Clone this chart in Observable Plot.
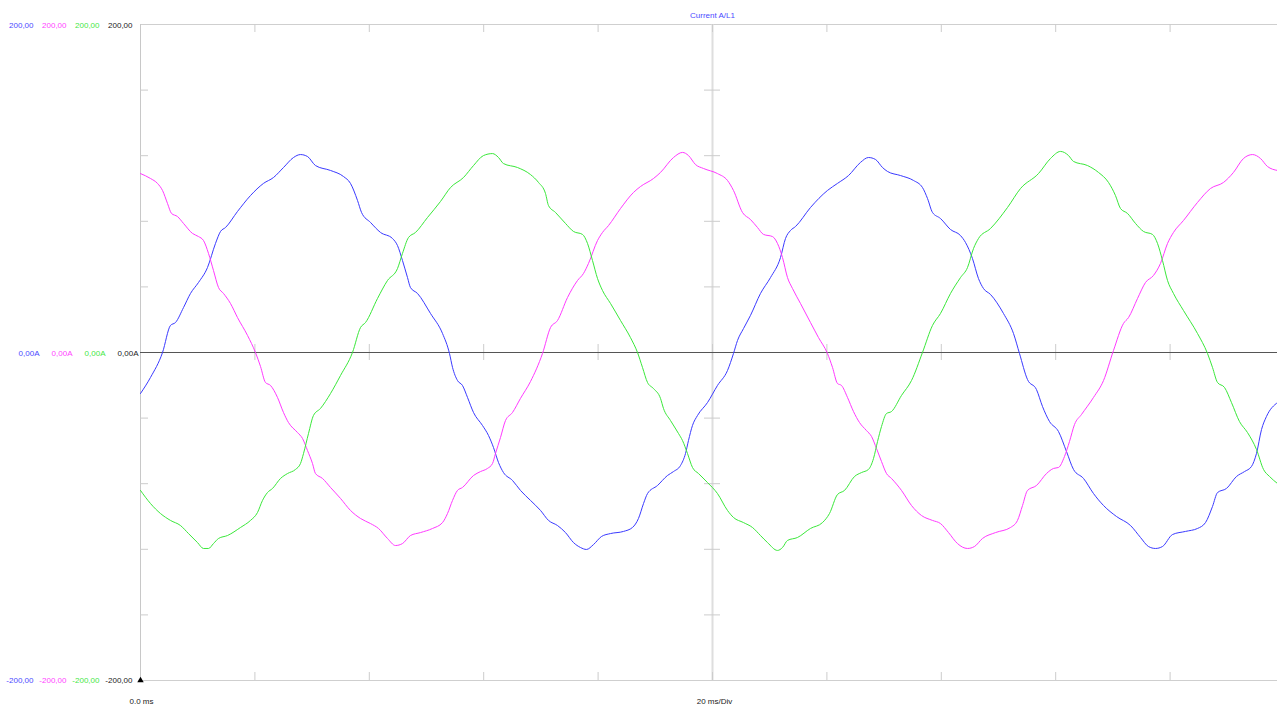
<!DOCTYPE html>
<html>
<head>
<meta charset="utf-8">
<script src="https://cdn.jsdelivr.net/npm/d3@7"></script>
<script src="https://cdn.jsdelivr.net/npm/@observablehq/plot@0.6"></script>
<style>
  html, body { margin: 0; padding: 0; background: #fff; overflow: hidden; }
  #chart svg { display: block; }
</style>
</head>
<body>
<div id="chart"></div>
<script>
// ---- Data (time in ms, current in A) ----
const blueTime = [0,1.75,3.85,5.24,6.12,7.52,8.74,10.14,11.71,13.11,13.99,14.86,16.96,19.23,21.5,23.25,25,26.75,27.97,29.2,30.59,33.22,35.49,36.71,37.94,38.64,40.21,41.96,44.06,44.93,45.8,46.68,47.2,48.43,50.7,52.8,54.02,54.55,55.42,56.29,57.17,58.22,59.79,60.84,61.71,62.59,63.46,65.03,66.43,68.18,69.93,71.33,72.9,74.3,75.7,76.92,77.97,79.2,80.59,82.17,84.44,86.01,87.06,87.94,88.64,90.38,92.13,93.18,94.41,95.28,95.8,96.5,97.38,99.13,100.87,102.62,103.67,104.37,105.42,106.64,108.39,110.14,111.89,112.76,113.64,114.51,117.13,120.1,121.85,123.78,125.87,127.27,128.5,129.72,130.59,132.87,135.14,136.71,137.59,138.46,139.86,141.61,143.36,144.23,145.45,146.5,147.38,148.6,150.87,152.62,153.67,155.07,156.64,157.69,158.92,160.49,161.89,163.11,164.86,166.61,168.36,170.63,173.08,174.83,176.22,177.45,178.67,180.42,182.69,184.79,186.19,187.41,188.29,189.86,191.61,193.01,194.23,195.1,195.98,196.85,198.78];
const blueCurrent = [-25,-15.2,0,16.5,18.3,27.4,36,42.7,51.8,66.5,73.8,76.2,86,95.7,103.1,106.7,112.8,118.9,120.7,119.5,114,111,107.3,103.1,92.7,85.4,79.3,73.2,69.5,65.2,56.1,45.7,39.6,36,23.8,11.6,-0.6,-9.1,-17.1,-20.1,-27.4,-36.6,-44.5,-50.6,-57.9,-67.1,-73.2,-78,-84.1,-90.2,-96.3,-102.4,-105.5,-109.8,-115.9,-118.9,-120.1,-117.1,-112.2,-110.4,-109.1,-106.7,-101.2,-92.1,-86,-81.1,-75,-72.6,-68.9,-61.6,-53.7,-44.5,-38.4,-30.5,-20.1,-11,-0.6,7.3,14.6,22.6,36,45.7,57.9,69.5,74.4,76.8,88.4,98.8,103.1,107.9,115.9,118.9,117.7,112.8,110.4,107.9,104.9,100.6,93.9,85.4,81.7,75,71.3,67.1,57.3,45.1,39,35.4,23.8,11.6,-0.6,-16.5,-22.6,-32.9,-42.1,-48.2,-60.4,-71.3,-76.8,-86,-93.3,-100,-105.5,-112.8,-118.3,-119.5,-118.3,-111,-109.1,-107.3,-103.7,-93.9,-85.4,-82.9,-75.6,-72.6,-69.5,-61.6,-47,-39,-30.5];

const magentaTime = [0,1.75,2.97,3.85,4.72,5.42,6.47,7.52,9.09,10.14,11.01,11.89,12.76,13.64,14.51,15.73,16.96,18.71,20.1,20.98,21.85,22.73,23.95,25,25.87,27.45,28.32,29.2,30.07,30.59,31.82,33.22,34.97,36.71,38.46,40.21,41.61,43.18,44.58,45.8,47.2,48.95,51.05,52.8,53.67,54.55,55.42,56.29,58.22,59.44,60.66,61.54,62.06,62.94,63.81,65.03,66.43,68.18,70.28,71.68,72.9,74.65,76.4,77.45,78.32,79.9,80.77,81.82,83.92,86.19,87.41,89.69,90.91,93.18,94.76,95.8,97.03,98.43,100.87,102.62,103.67,105.24,106.64,107.87,108.92,110.49,111.36,112.24,113.11,113.99,115.38,117.13,118.53,120.1,120.98,121.85,122.55,123.6,124.65,125.7,126.92,127.8,128.67,129.55,130.42,131.29,133.04,134.79,136.54,138.46,139.86,141.26,142.83,144.58,145.8,147.2,149.48,152.1,153.32,154.2,155.07,156.64,158.39,159.62,160.49,161.54,162.41,163.29,164.51,166.61,168.36,170.1,171.85,172.73,174.3,175.7,177.1,178.32,179.55,180.59,182.34,184.79,187.06,189.34,191.08,192.83,194.41,195.8,197.03,198.78];
const magentaCurrent = [109.1,106.1,103.1,98.8,90.9,84.8,82.9,78.7,72.6,70.7,68.3,60.4,50,39.6,36,29.9,21.3,10.4,0,-8.5,-18.3,-20.1,-27.4,-36.6,-42.7,-48.8,-52.4,-59.8,-67.7,-73.8,-76.8,-82.3,-89,-96.3,-101.2,-104.3,-107.3,-113.4,-117.7,-116.5,-111.6,-109.8,-107.3,-103.7,-98.2,-90.2,-84.1,-82.3,-75,-72.6,-70.7,-67.7,-61.6,-51.8,-41.5,-36.6,-28,-17.7,-0.6,15.2,19.5,33.5,43.9,48.2,54.3,68.3,73.2,77.4,87.8,97.6,101.2,106.1,109.8,118.9,122,120.1,114.6,112.2,109.1,104.9,98.8,85.4,81.1,76.2,72,70.7,66.5,57.9,45.7,39,29.9,18.3,9.1,-0.6,-9.1,-18.9,-20.1,-27.4,-36,-42.7,-47.6,-51.2,-58.5,-66.5,-73.8,-76.8,-84.1,-93.3,-99.4,-102.4,-104.3,-109.8,-116.5,-119.5,-118.3,-113.4,-109.8,-106.7,-102.4,-93.3,-84.1,-81.1,-73.8,-70.7,-70.1,-63.4,-54.3,-43.9,-37.8,-27.4,-17.1,1.2,17.7,21.3,32.9,42.7,47,54.3,66.5,73.2,80.5,91.5,100,103.7,109.8,118.3,120.7,118.3,113.4,111];

const greenTime = [0,1.75,3.5,5.24,6.99,8.39,9.97,11.01,11.89,12.76,13.64,15.21,17.48,19.23,20.45,21.33,22.2,23.08,24.48,25.7,27.1,27.97,28.5,29.37,30.24,31.47,33.22,34.97,37.06,38.46,39.34,41.43,43.18,44.93,45.8,46.85,48.08,50.17,52.45,54.2,56.47,58.22,59.97,61.54,62.59,63.46,65.91,68.18,69.58,70.8,71.33,72.55,74.3,75.7,77.27,78.15,79.02,79.9,80.77,82.17,83.92,85.66,86.89,87.76,88.64,89.69,90.91,91.43,92.66,94.06,94.76,95.63,96.5,97.55,99.13,100.87,102.62,103.67,105.42,106.99,108.39,109.62,111.36,112.24,113.11,114.86,117.13,119.23,120.45,121.85,123.08,124.83,126.05,127.27,128.15,128.85,129.55,130.42,131.29,133.04,134.79,136.71,138.46,139.86,141.61,143.36,144.58,145.63,146.5,148.6,151.57,153.85,156.99,159.09,160.84,162.24,163.11,165.56,167.48,169.23,170.45,171.33,172.55,173.95,175.35,176.92,177.8,178.67,179.55,180.59,182.34,184.79,186.54,187.41,188.29,189.51,190.73,192.13,193.53,195.1,196.33,197.38,198.78];
const greenCurrent = [-84.1,-92.1,-98.2,-102.4,-105.5,-110.4,-115.9,-119.5,-119.5,-116.5,-113.4,-111.6,-106.7,-102.4,-97.6,-90.2,-85.4,-82.9,-76.8,-73.8,-71.3,-67.7,-61.6,-49.4,-38.4,-34.1,-25,-14,0,15.2,18.3,32.9,43.9,51.2,60.4,70.1,73.2,82.3,92.1,100.6,106.7,114,120.1,121.3,118.9,115.2,112.8,108.5,103.7,97,89.6,85.4,78.7,73.8,72,66.5,56.1,45.1,37.8,29.9,19.5,9.1,0,-9.1,-18.3,-22,-28,-34.1,-41.5,-49.4,-53.7,-61.6,-70.1,-73.8,-79.3,-86,-96.3,-100.6,-103.7,-106.7,-111.6,-115.9,-120.7,-118.9,-114.6,-112.8,-107.3,-103.7,-98.2,-86.6,-84.1,-75.6,-73.2,-71.3,-64.6,-54.3,-45.1,-37.2,-36,-26.2,-17.1,0,16.5,23.8,36,45.7,51.8,63.4,69.5,75.6,88.4,100,109.1,118.3,122.6,120.1,116.5,114,109.8,103.7,95.7,87.8,84.8,78.7,73.8,72,66.5,56.1,43.9,36,25.6,11.6,-0.6,-9.1,-18.3,-21.3,-30.5,-42.1,-48.8,-59.1,-71.3,-75.6,-79.9];

// ---- Labels ----
const title = "Current A/L1";
const seriesColors = ["#3a3aff", "#ff3aff", "#3ae83a"];
const labelColors = ["#4a4aff", "#ff44ff", "#44e844", "#222222"];
const topLabels = ["200,00", "200,00", "200,00", "200,00"];
const zeroLabels = ["0,00A", "0,00A", "0,00A", "0,00A"];
const bottomLabels = ["-200,00", "-200,00", "-200,00", "-200,00"];
const xStartLabel = "0.0 ms";
const xDivLabel = "20 ms/Div";
const xTicks = [20, 40, 60, 80, 100, 120, 140, 160, 180];
const yTicks = [-160, -120, -80, -40, 40, 80, 120, 160];

// ---- Build tables ----
const toRows = (t, v, s) => t.map((d, i) => ({ t: d, v: v[i], s }));
const blue = toRows(blueTime, blueCurrent, "blue");
const magenta = toRows(magentaTime, magentaCurrent, "magenta");
const green = toRows(greenTime, greenCurrent, "green");

const W = 1277, H = 704, ML = 140, MT = 24, MB = 24;
const xMax = (W - ML) / 114.4 * 20; // 20 ms per division of 114.4 px
const pxY = 656 / 400;              // px per A
const pxX = 114.4 / 20;             // px per ms
const tickLen = 8;
const font = "'Liberation Sans', Arial, sans-serif";

const leftLabelMarks = [];
const topRight = [33, 66, 99, 132];
const zeroRight = [39, 72, 105, 138];
[0, 1, 2, 3].forEach(i => {
  leftLabelMarks.push(Plot.text([topLabels[i]], {x: 0, y: 200, text: d => d, textAnchor: "end", dx: topRight[i] - ML, dy: 1, fill: labelColors[i], fontSize: 8}));
  leftLabelMarks.push(Plot.text([zeroLabels[i]], {x: 0, y: 0, text: d => d, textAnchor: "end", dx: zeroRight[i] - ML, dy: 1, fill: labelColors[i], fontSize: 8}));
  leftLabelMarks.push(Plot.text([bottomLabels[i]], {x: 0, y: -200, text: d => d, textAnchor: "end", dx: topRight[i] - ML, dy: 0, fill: labelColors[i], fontSize: 8}));
});

const chart = Plot.plot({
  width: W,
  height: H,
  marginLeft: ML,
  marginRight: 0,
  marginTop: MT,
  marginBottom: MB,
  x: {domain: [0, xMax], axis: null},
  y: {domain: [-200, 200], axis: null},
  style: {fontFamily: font, fontSize: "8px", background: "#fff", overflow: "visible"},
  marks: [
    // frame / grid
    Plot.ruleY([200, -200], {stroke: "#cfcfcf", strokeWidth: 1}),
    Plot.ruleX([0], {stroke: "#c8c8c8", strokeWidth: 1}),
    Plot.ruleX([100], {stroke: "#dedede", strokeWidth: 2}),
    // small ticks
    Plot.ruleX(xTicks, {y1: -tickLen / pxY, y2: tickLen / pxY, stroke: "#cccccc"}),
    Plot.ruleX(xTicks, {y1: 200, y2: 200 - tickLen / pxY, stroke: "#cccccc"}),
    Plot.ruleX(xTicks, {y1: -200, y2: -200 + tickLen / pxY, stroke: "#cccccc"}),
    Plot.ruleY(yTicks, {x1: 0, x2: tickLen / pxX, stroke: "#cccccc"}),
    Plot.ruleY(yTicks, {x1: 100 - tickLen / pxX, x2: 100 + tickLen / pxX, stroke: "#cccccc"}),
    // zero line
    Plot.ruleY([0], {stroke: "#555555", strokeWidth: 1}),
    // waveforms
    Plot.line(blue, {x: "t", y: "v", stroke: seriesColors[0], strokeWidth: 1, curve: "monotone-x"}),
    Plot.line(magenta, {x: "t", y: "v", stroke: seriesColors[1], strokeWidth: 1, curve: "monotone-x"}),
    Plot.line(green, {x: "t", y: "v", stroke: seriesColors[2], strokeWidth: 1, curve: "monotone-x"}),
    // trigger marker
    Plot.dot([0], {x: 0, y: -200, symbol: "triangle", r: 2.4, fill: "#000", stroke: null}),
    // labels
    ...leftLabelMarks,
    Plot.text([title], {x: 100, y: 200, text: d => d, dy: -9, fill: "#4a4aff", fontSize: 8}),
    Plot.text([xStartLabel], {x: 0, y: -200, text: d => d, dy: 21, dx: 1, fill: "#222", fontSize: 8}),
    Plot.text([xDivLabel], {x: 100, y: -200, text: d => d, dy: 21, dx: 2, fill: "#222", fontSize: 8})
  ]
});
document.getElementById("chart").appendChild(chart);
</script>
</body>
</html>
